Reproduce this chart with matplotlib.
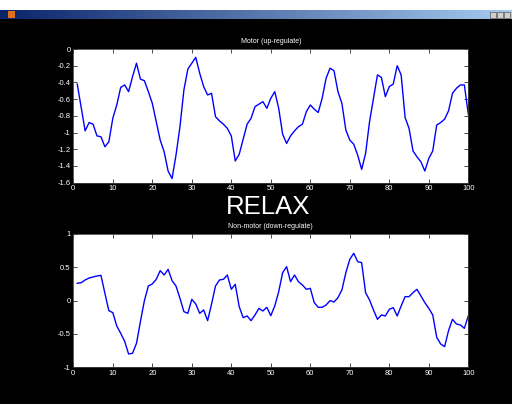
import numpy as np
import matplotlib
matplotlib.use("Agg")
import matplotlib.pyplot as plt
from matplotlib.patches import Rectangle

plt.rcParams['font.family'] = ['Liberation Sans', 'DejaVu Sans']

x = np.arange(1, 101)

motor = [-0.42, -0.70, -0.98, -0.88, -0.90, -1.04, -1.05, -1.17, -1.11, -0.83,
         -0.67, -0.46, -0.43, -0.51, -0.33, -0.17, -0.36, -0.38, -0.51, -0.65,
         -0.87, -1.09, -1.23, -1.46, -1.55, -1.27, -0.93, -0.49, -0.24, -0.17,
         -0.10, -0.29, -0.45, -0.55, -0.53, -0.81, -0.86, -0.90, -0.95, -1.04,
         -1.34, -1.26, -1.08, -0.90, -0.83, -0.69, -0.66, -0.63, -0.71, -0.59,
         -0.51, -0.71, -1.02, -1.13, -1.04, -0.98, -0.93, -0.90, -0.75, -0.67,
         -0.72, -0.76, -0.59, -0.35, -0.23, -0.26, -0.51, -0.65, -0.97, -1.09,
         -1.14, -1.27, -1.44, -1.25, -0.87, -0.59, -0.31, -0.34, -0.57, -0.45,
         -0.42, -0.20, -0.31, -0.82, -0.95, -1.22, -1.29, -1.35, -1.46, -1.31,
         -1.22, -0.91, -0.88, -0.84, -0.74, -0.53, -0.47, -0.43, -0.43, -0.78]

nonmotor = [0.26, 0.27, 0.31, 0.34, 0.355, 0.37, 0.38, 0.11, -0.15, -0.18,
            -0.38, -0.49, -0.61, -0.80, -0.79, -0.64, -0.31, 0.0, 0.22, 0.25,
            0.32, 0.45, 0.385, 0.47, 0.30, 0.22, 0.035, -0.165, -0.19, 0.02,
            -0.05, -0.19, -0.14, -0.30, -0.05, 0.22, 0.31, 0.32, 0.385, 0.17,
            0.245, -0.09, -0.255, -0.23, -0.30, -0.215, -0.115, -0.155, -0.10, -0.225,
            -0.08, 0.135, 0.42, 0.51, 0.285, 0.385, 0.285, 0.235, 0.17, 0.185,
            -0.03, -0.10, -0.10, -0.065, 0.0, -0.02, 0.045, 0.16, 0.42, 0.62,
            0.71, 0.585, 0.57, 0.12, 0.01, -0.14, -0.28, -0.215, -0.23, -0.13,
            -0.105, -0.23, -0.08, 0.06, 0.06, 0.12, 0.17, 0.07, -0.03, -0.115,
            -0.215, -0.55, -0.65, -0.69, -0.45, -0.28, -0.35, -0.365, -0.415, -0.23]

xticks = [0, 10, 20, 30, 40, 50, 60, 70, 80, 90, 100]
top_yticks = [0, -0.2, -0.4, -0.6, -0.8, -1, -1.2, -1.4, -1.6]
top_ylabels = ['0', '-0.2', '-0.4', '-0.6', '-0.8', '-1', '-1.2', '-1.4', '-1.6']
bot_yticks = [1, 0.5, 0, -0.5, -1]
bot_ylabels = ['1', '0.5', '0', '-0.5', '-1']
title_top = 'Motor (up-regulate)'
title_bot = 'Non-motor (down-regulate)'
center_text = 'RELAX'

W, H = 512, 404
fig = plt.figure(figsize=(W / 100, H / 100), dpi=100, facecolor='white')

def fx(px):
    return px / W

def fy(py):
    return 1 - py / H

# black window area
fig.patches.append(Rectangle((0, 0), 1, fy(19), transform=fig.transFigure,
                             facecolor='black', edgecolor='none', zorder=-5))
# title bar gradient
grad = np.linspace(0, 1, 256).reshape(1, -1)
cmap = matplotlib.colors.LinearSegmentedColormap.from_list('tb', ['#0a246a', '#a6caf0'])
axbar = fig.add_axes([0, fy(19), 1, fy(10) - fy(19)])
axbar.imshow(grad, aspect='auto', cmap=cmap, extent=[0, 1, 0, 1])
axbar.set_axis_off()
# icon and window buttons
fig.patches.append(Rectangle((fx(8), fy(18)), fx(7), fy(11) - fy(18), transform=fig.transFigure,
                             facecolor='#e07020', edgecolor='none', zorder=5))
for bx in [490, 497, 504]:
    fig.patches.append(Rectangle((fx(bx), fy(18)), fx(6), fy(12) - fy(18), transform=fig.transFigure,
                                 facecolor='#d4d0c8', edgecolor='#404040', linewidth=0.4, zorder=5))

left = fx(73.3)
width = fx(468.3) - left

def style(ax, yticks, ylabels, ylim):
    ax.set_facecolor('white')
    ax.set_xlim(0, 100)
    ax.set_ylim(*ylim)
    ax.set_xticks(xticks)
    ax.set_xticklabels([str(t) for t in xticks])
    ax.set_yticks(yticks)
    ax.set_yticklabels(ylabels)
    ax.tick_params(direction='in', length=3, width=0.5, colors='black',
                   labelcolor='white', labelsize=5.5, pad=2, top=True, right=True)
    for s in ax.spines.values():
        s.set_color('#404040')
        s.set_linewidth(0.6)

ax1 = fig.add_axes([left, fy(182.7), width, fy(49) - fy(182.7)])
ax1.plot(x, motor, color='#0000ff', linewidth=1.0)
style(ax1, top_yticks, top_ylabels, (-1.6, 0))
ax1.set_title(title_top, color='white', fontsize=5, pad=4)

ax2 = fig.add_axes([left, fy(367.3), width, fy(234) - fy(367.3)])
ax2.plot(x, nonmotor, color='#0000ff', linewidth=1.0)
style(ax2, bot_yticks, bot_ylabels, (-1, 1))
ax2.set_title(title_bot, color='white', fontsize=5, pad=4)

fig.text(fx(268), fy(207), center_text, color='white', fontsize=18.5,
         ha='center', va='center')

fig.savefig('out.png', dpi=100, facecolor=fig.get_facecolor())
